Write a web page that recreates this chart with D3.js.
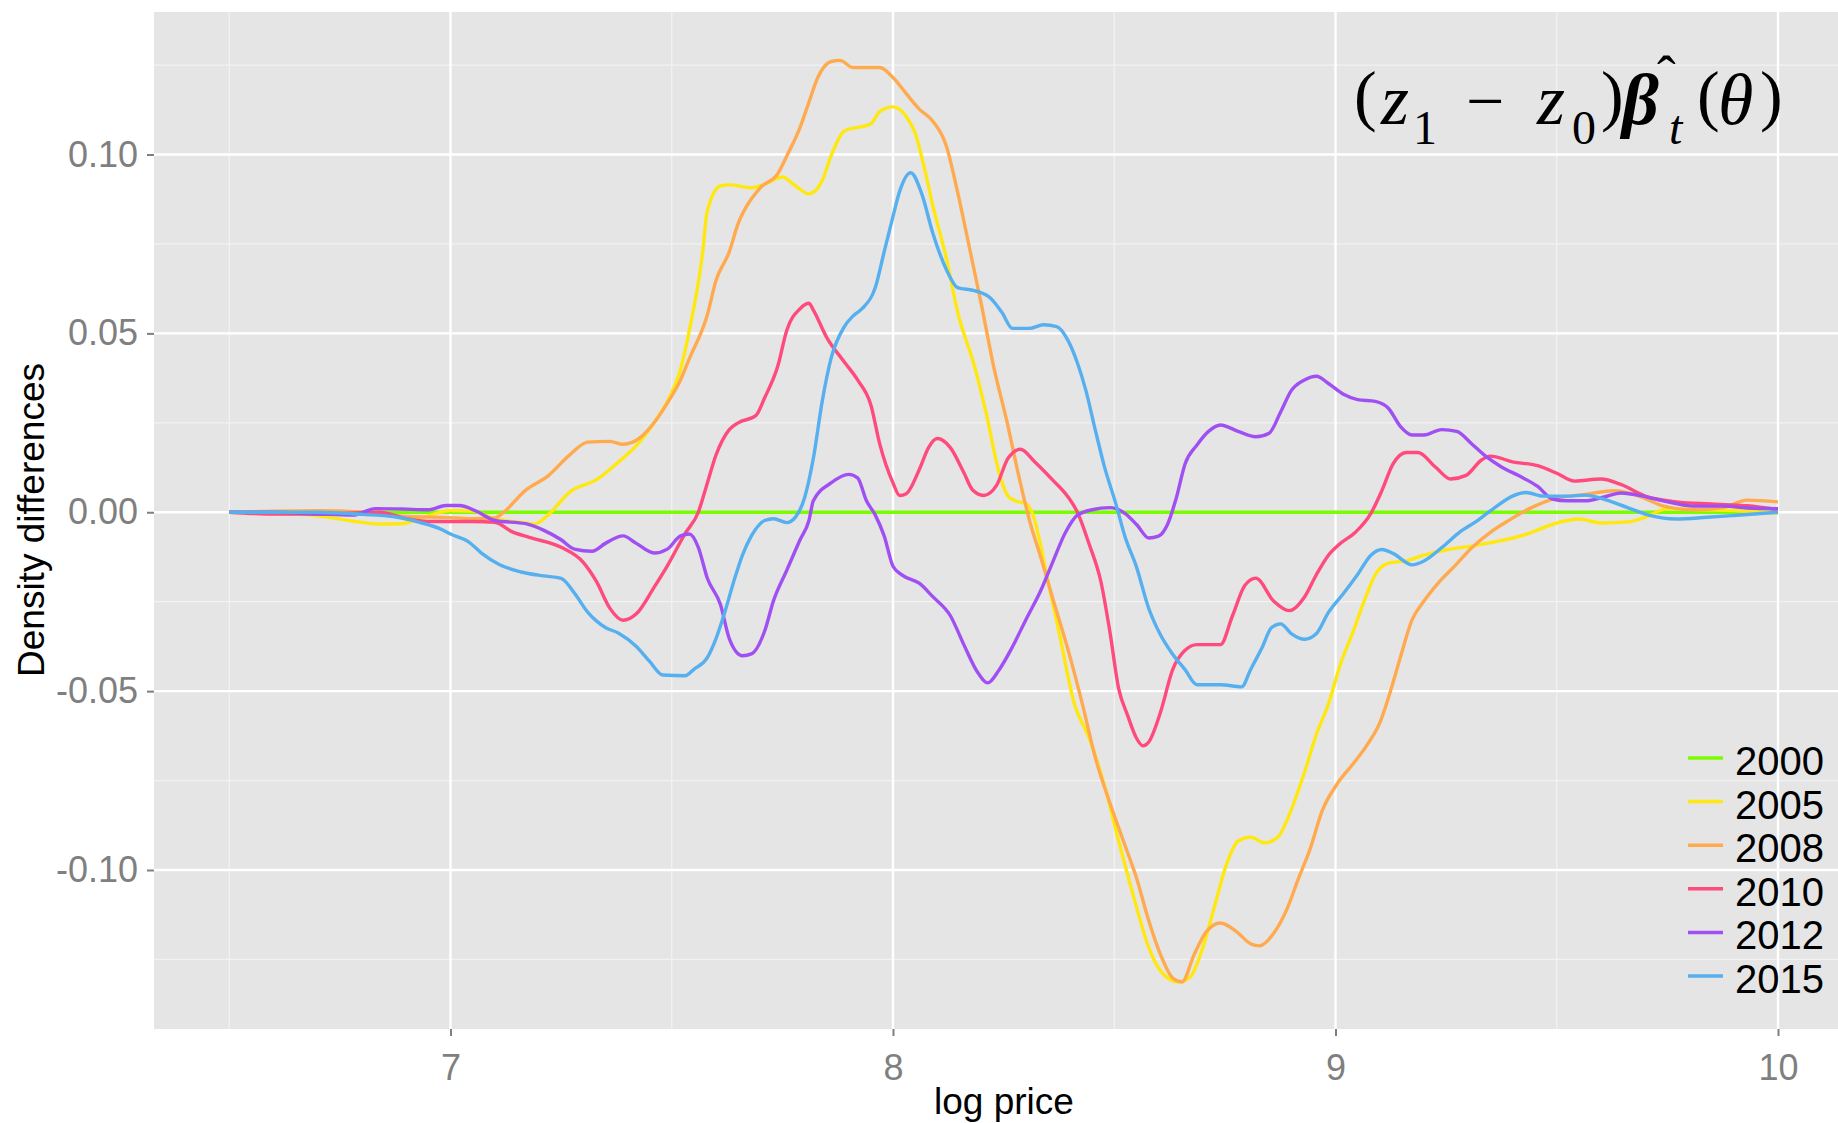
<!DOCTYPE html>
<html>
<head>
<meta charset="utf-8">
<script src="https://cdn.jsdelivr.net/npm/d3@7"></script>
<style>
  body { margin: 0; background: #fff; }
  #chart text { font-family: "Liberation Sans", Arial, sans-serif; }
</style>
</head>
<body>
<div id="chart"></div>
<script>

//////////// *** DATA *** ////////////

var years = ["2000", "2005", "2008", "2010", "2012", "2015"];

var xTicks = [7, 8, 9, 10];
var xTickLabels = ["7", "8", "9", "10"];
var xMinor = [6.5, 7.5, 8.5, 9.5];

var yTicks = [-0.10, -0.05, 0, 0.05, 0.10];
var yTickLabels = ["-0.10", "-0.05", "0.00", "0.05", "0.10"];
var yMinor = [-0.125, -0.075, -0.025, 0.025, 0.075, 0.125];

// [log price, density difference]
var d2000 = [[6.5, 0], [10, 0]];

var d2005 = [[6.5,0],[6.6,-0.0003],[6.7,-0.001],[6.78,-0.0025],[6.84,-0.0033],[6.89,-0.0032],[6.95,-0.001],[7.0,0.0005],
  [7.05,0.0003],[7.1,-0.0018],[7.17,-0.003],[7.19,-0.0033],[7.22,-0.0008],[7.27,0.0057],[7.33,0.0091],[7.38,0.0141],
  [7.42,0.0186],[7.46,0.025],[7.49,0.031],[7.52,0.040],[7.54,0.051],[7.57,0.0728],[7.58,0.084],[7.61,0.0912],[7.63,0.0915],
  [7.68,0.0907],[7.71,0.0917],[7.75,0.0937],[7.78,0.0912],[7.81,0.089],[7.84,0.0927],[7.86,0.0996],[7.89,0.1066],
  [7.95,0.1086],[7.97,0.112],[8.0,0.1133],[8.03,0.1106],[8.05,0.106],[8.07,0.0967],[8.09,0.0857],[8.12,0.0713],
  [8.146,0.056],[8.186,0.040],[8.21,0.028],[8.24,0.011],[8.26,0.0045],[8.28,0.003],[8.3,0.0025],[8.315,-0.0003],
  [8.35,-0.019],[8.376,-0.034],[8.41,-0.0536],[8.443,-0.063],[8.477,-0.076],[8.51,-0.0919],[8.545,-0.108],[8.578,-0.1217],
  [8.61,-0.129],[8.646,-0.1313],[8.673,-0.1297],[8.70,-0.1217],[8.727,-0.110],[8.754,-0.0983],[8.78,-0.0919],[8.808,-0.0908],
  [8.84,-0.0924],[8.87,-0.0908],[8.896,-0.0844],[8.93,-0.0727],[8.957,-0.062],[8.984,-0.0536],[9.01,-0.0429],[9.04,-0.0333],
  [9.065,-0.0248],[9.09,-0.0174],[9.12,-0.0142],[9.16,-0.0136],[9.2,-0.012],[9.254,-0.0104],[9.31,-0.0094],[9.36,-0.0083],
  [9.43,-0.0062],[9.5,-0.003],[9.55,-0.0019],[9.6,-0.003],[9.66,-0.0027],[9.7,-0.0014],[9.75,0.001],[9.835,0.0007],
  [9.9,0.0005],[10.0,-0.0003]];

var d2008 = [[6.5,0],[6.6,0.0003],[6.7,0.0004],[6.8,0],[6.9,-0.0012],[7.0,-0.0015],[7.05,-0.0018],[7.1,-0.0016],[7.12,0],
  [7.17,0.0062],[7.22,0.0101],[7.27,0.0161],[7.31,0.0196],[7.36,0.0198],[7.39,0.019],[7.43,0.021],[7.46,0.025],[7.49,0.0305],
  [7.52,0.037],[7.54,0.043],[7.58,0.055],[7.6,0.0648],[7.63,0.0728],[7.65,0.0807],[7.67,0.0857],[7.7,0.0907],[7.74,0.0947],
  [7.76,0.0996],[7.79,0.1076],[7.81,0.1146],[7.83,0.1215],[7.86,0.126],[7.88,0.1263],[7.91,0.1243],[7.97,0.1243],[8.0,0.1215],
  [8.03,0.117],[8.06,0.1126],[8.09,0.1093],[8.12,0.1026],[8.146,0.0895],[8.173,0.0738],[8.2,0.0579],[8.227,0.041],[8.26,0.024],
  [8.28,0.0125],[8.31,-0.003],[8.335,-0.013],[8.36,-0.0237],[8.396,-0.0386],[8.43,-0.0546],[8.457,-0.0685],[8.49,-0.0812],
  [8.524,-0.093],[8.551,-0.1025],[8.578,-0.1142],[8.605,-0.1238],[8.632,-0.1302],[8.653,-0.1313],[8.68,-0.1238],[8.707,-0.1174],
  [8.74,-0.1148],[8.774,-0.117],[8.808,-0.1206],[8.828,-0.1212],[8.862,-0.1174],[8.89,-0.111],[8.916,-0.1025],[8.943,-0.094],
  [8.97,-0.0834],[9.004,-0.0759],[9.038,-0.0706],[9.07,-0.0653],[9.1,-0.0589],[9.126,-0.0493],[9.146,-0.0408],[9.173,-0.0301],
  [9.2,-0.0248],[9.234,-0.0195],[9.268,-0.0152],[9.308,-0.0099],[9.35,-0.0056],[9.39,-0.0024],[9.443,0.0013],[9.497,0.0039],
  [9.565,0.005],[9.63,0.006],[9.686,0.0045],[9.74,0.0018],[9.81,0.0007],[9.876,0.0013],[9.93,0.0034],[10.0,0.0029]];

var d2010 = [[6.5,0],[6.6,-0.0005],[6.7,-0.0005],[6.84,0],[6.9,-0.0018],[6.96,-0.0026],[7.05,-0.0026],[7.1,-0.0028],
  [7.14,-0.0055],[7.18,-0.0071],[7.25,-0.0098],[7.3,-0.014],[7.33,-0.0194],[7.36,-0.0268],[7.39,-0.0302],[7.42,-0.0284],
  [7.46,-0.021],[7.49,-0.015],[7.53,-0.006],[7.56,0],[7.58,0.008],[7.6,0.016],[7.63,0.0231],[7.65,0.025],[7.69,0.027],
  [7.71,0.032],[7.74,0.041],[7.76,0.0509],[7.79,0.0569],[7.81,0.0584],[7.82,0.0565],[7.85,0.0489],[7.89,0.042],[7.92,0.037],
  [7.95,0.030],[7.97,0.0191],[8.0,0.0082],[8.015,0.0047],[8.03,0.0052],[8.06,0.0121],[8.08,0.018],[8.1,0.0206],[8.13,0.018],
  [8.16,0.0111],[8.18,0.0062],[8.205,0.0047],[8.234,0.0075],[8.26,0.0151],[8.288,0.0176],[8.32,0.0141],[8.36,0.0091],
  [8.396,0.0042],[8.416,0.0002],[8.443,-0.0088],[8.47,-0.0195],[8.49,-0.0333],[8.51,-0.0493],[8.53,-0.0567],[8.55,-0.0631],
  [8.565,-0.0653],[8.578,-0.0642],[8.605,-0.0557],[8.632,-0.044],[8.66,-0.0386],[8.687,-0.037],[8.74,-0.037],[8.767,-0.029],
  [8.795,-0.0205],[8.82,-0.0184],[8.86,-0.0248],[8.896,-0.0275],[8.93,-0.0237],[8.957,-0.0174],[8.984,-0.012],[9.01,-0.0088],
  [9.045,-0.0056],[9.08,-0.0003],[9.105,0.0061],[9.13,0.0135],[9.16,0.0167],[9.186,0.0167],[9.227,0.0125],[9.26,0.0093],
  [9.295,0.0103],[9.33,0.0146],[9.35,0.0157],[9.4,0.0141],[9.457,0.013],[9.5,0.0109],[9.54,0.0087],[9.6,0.0093],[9.646,0.0077],
  [9.7,0.0045],[9.77,0.0029],[9.85,0.0023],[9.93,0.0018],[10.0,0.0007]];

var d2012 = [[6.5,0],[6.6,0],[6.7,-0.0005],[6.78,-0.0008],[6.83,0.001],[6.89,0.0009],[6.95,0.0007],[6.99,0.0019],[7.02,0.0019],
  [7.06,0.0002],[7.1,-0.0023],[7.17,-0.0032],[7.21,-0.005],[7.25,-0.0077],[7.28,-0.0103],[7.32,-0.0109],[7.35,-0.0087],
  [7.39,-0.0066],[7.42,-0.0087],[7.46,-0.0114],[7.49,-0.0103],[7.52,-0.0066],[7.54,-0.0061],[7.56,-0.0098],[7.58,-0.0183],
  [7.61,-0.0258],[7.63,-0.0353],[7.66,-0.0401],[7.68,-0.0396],[7.71,-0.0332],[7.73,-0.0247],[7.76,-0.0162],[7.79,-0.0077],
  [7.81,-0.0023],[7.82,0.0032],[7.86,0.0082],[7.9,0.0106],[7.92,0.0096],[7.94,0.0032],[7.96,-0.0008],[7.98,-0.0066],
  [8.0,-0.0151],[8.02,-0.0175],[8.06,-0.0199],[8.09,-0.0236],[8.13,-0.029],[8.16,-0.037],[8.19,-0.0445],[8.214,-0.0477],
  [8.24,-0.044],[8.27,-0.0376],[8.3,-0.0301],[8.335,-0.0216],[8.36,-0.0142],[8.39,-0.0056],[8.416,-0.0009],[8.45,0.0007],
  [8.49,0.0013],[8.524,-0.0003],[8.551,-0.0035],[8.578,-0.0072],[8.6,-0.0067],[8.62,-0.0035],[8.64,0.0039],[8.66,0.0135],
  [8.687,0.0188],[8.713,0.0226],[8.74,0.0244],[8.78,0.0226],[8.82,0.0211],[8.85,0.0221],[8.876,0.028],[8.9,0.034],[8.93,0.037],
  [8.957,0.038],[8.984,0.036],[9.018,0.033],[9.05,0.0315],[9.09,0.031],[9.12,0.029],[9.146,0.0241],[9.173,0.0216],[9.2,0.0216],
  [9.24,0.0231],[9.274,0.0226],[9.308,0.0191],[9.34,0.0156],[9.376,0.0126],[9.416,0.0101],[9.457,0.0072],[9.49,0.0037],
  [9.524,0.0032],[9.565,0.0032],[9.605,0.0042],[9.646,0.0054],[9.686,0.0047],[9.74,0.0032],[9.81,0.0017],[9.876,0.0017],
  [9.93,0.0012],[10.0,0.001]];

var d2015 = [[6.5,0],[6.6,0],[6.7,0],[6.8,-0.0006],[6.87,-0.0012],[6.93,-0.0028],[6.98,-0.0048],[7.0,-0.0061],[7.04,-0.0082],
  [7.07,-0.0114],[7.11,-0.0146],[7.16,-0.0167],[7.21,-0.0178],[7.25,-0.0185],[7.28,-0.0226],[7.31,-0.0279],[7.35,-0.0322],
  [7.38,-0.0338],[7.42,-0.0375],[7.45,-0.0417],[7.48,-0.0455],[7.53,-0.0457],[7.55,-0.0439],[7.58,-0.0407],[7.6,-0.0353],
  [7.62,-0.0279],[7.64,-0.0194],[7.66,-0.0119],[7.68,-0.0066],[7.71,-0.0023],[7.73,-0.0018],[7.76,-0.0029],[7.78,-0.0013],
  [7.8,0.004],[7.82,0.0151],[7.84,0.031],[7.86,0.043],[7.89,0.0519],[7.91,0.0549],[7.93,0.0569],[7.96,0.0628],[7.98,0.0728],
  [8.0,0.0827],[8.015,0.0897],[8.04,0.0949],[8.065,0.089],[8.09,0.078],[8.12,0.068],[8.146,0.0628],[8.186,0.0619],[8.22,0.0599],
  [8.246,0.0559],[8.27,0.0514],[8.308,0.0514],[8.34,0.0524],[8.37,0.0519],[8.396,0.0479],[8.416,0.042],[8.436,0.034],
  [8.457,0.0231],[8.477,0.0131],[8.504,0.0022],[8.524,-0.0067],[8.55,-0.0152],[8.578,-0.0269],[8.605,-0.0344],[8.632,-0.0397],
  [8.66,-0.044],[8.687,-0.0482],[8.74,-0.0482],[8.788,-0.0488],[8.808,-0.044],[8.835,-0.0376],[8.855,-0.0323],[8.876,-0.0312],
  [8.9,-0.0339],[8.93,-0.0355],[8.957,-0.0339],[8.984,-0.028],[9.018,-0.0227],[9.05,-0.0174],[9.08,-0.012],[9.105,-0.0104],
  [9.13,-0.0115],[9.173,-0.0147],[9.2,-0.0136],[9.24,-0.0099],[9.28,-0.0056],[9.32,-0.0024],[9.36,0.0013],[9.4,0.0045],
  [9.43,0.0055],[9.47,0.0045],[9.524,0.0045],[9.565,0.0048],[9.6,0.0039],[9.66,0.0013],[9.71,-0.0009],[9.77,-0.0019],
  [9.84,-0.0014],[9.9,-0.0009],[10.0,0]];

var series = [d2000, d2005, d2008, d2010, d2012, d2015];


//////////// *** VARIABLES *** ////////////

var width = 1838,
    height = 1123;

var panel = {left: 154, top: 12, right: 1838, bottom: 1029};

var colors = ["#7cfc00", "#ffe811", "#ffaa4f", "#ff4a7d", "#a050f2", "#56afef"];

var x = d3.scaleLinear().domain([7, 10]).range([450.5, 1778]);
var y = d3.scaleLinear().domain([-0.1, 0.1]).range([870, 154.5]);

var svg = d3.select("#chart").append("svg")
  .attr("width", width)
  .attr("height", height);


//////////// *** PANEL + GRID *** ////////////

svg.append("rect")
  .attr("x", panel.left)
  .attr("y", panel.top)
  .attr("width", panel.right - panel.left)
  .attr("height", panel.bottom - panel.top)
  .attr("fill", "#e5e5e5");

var grid = svg.append("g");

grid.selectAll(".minor-x")
  .data(xMinor)
  .enter().append("line")
  .attr("x1", function(d) { return x(d); })
  .attr("x2", function(d) { return x(d); })
  .attr("y1", panel.top)
  .attr("y2", panel.bottom)
  .attr("stroke", "#f2f2f2")
  .attr("stroke-width", 1.3);

grid.selectAll(".minor-y")
  .data(yMinor)
  .enter().append("line")
  .attr("x1", panel.left)
  .attr("x2", panel.right)
  .attr("y1", function(d) { return y(d); })
  .attr("y2", function(d) { return y(d); })
  .attr("stroke", "#f2f2f2")
  .attr("stroke-width", 1.3);

grid.selectAll(".major-x")
  .data(xTicks)
  .enter().append("line")
  .attr("x1", function(d) { return x(d); })
  .attr("x2", function(d) { return x(d); })
  .attr("y1", panel.top)
  .attr("y2", panel.bottom)
  .attr("stroke", "#fff")
  .attr("stroke-width", 2.4);

grid.selectAll(".major-y")
  .data(yTicks)
  .enter().append("line")
  .attr("x1", panel.left)
  .attr("x2", panel.right)
  .attr("y1", function(d) { return y(d); })
  .attr("y2", function(d) { return y(d); })
  .attr("stroke", "#fff")
  .attr("stroke-width", 2.4);


//////////// *** LINES *** ////////////

var line = d3.line()
  .x(function(d) { return x(d[0]); })
  .y(function(d) { return y(d[1]); })
  .curve(d3.curveMonotoneX);

svg.selectAll(".series")
  .data(series)
  .enter().append("path")
  .attr("class", "series")
  .attr("d", line)
  .attr("fill", "none")
  .attr("stroke", function(d, i) { return colors[i]; })
  .attr("stroke-width", 3.4)
  .attr("stroke-linejoin", "round");


//////////// *** AXES *** ////////////

var xAxis = svg.append("g")
  .attr("transform", "translate(0," + panel.bottom + ")")
  .call(d3.axisBottom(x)
    .tickValues(xTicks)
    .tickFormat(function(d, i) { return xTickLabels[i]; })
    .tickSize(7)
    .tickPadding(18));

var yAxis = svg.append("g")
  .attr("transform", "translate(" + panel.left + ",0)")
  .call(d3.axisLeft(y)
    .tickValues(yTicks)
    .tickFormat(function(d, i) { return yTickLabels[i]; })
    .tickSize(7)
    .tickPadding(9));

[xAxis, yAxis].forEach(function(ax) {
  ax.select(".domain").remove();
  ax.selectAll(".tick line").attr("stroke", "#7f7f7f").attr("stroke-width", 2);
  ax.selectAll(".tick text")
    .attr("fill", "#7f7f7f")
    .style("font-size", "36px");
});

svg.append("text")
  .attr("x", 1004)
  .attr("y", 1114)
  .attr("text-anchor", "middle")
  .style("font-size", "37px")
  .attr("fill", "#000")
  .text("log price");

svg.append("text")
  .attr("transform", "translate(44,520) rotate(-90)")
  .attr("text-anchor", "middle")
  .style("font-size", "37px")
  .attr("fill", "#000")
  .text("Density differences");


//////////// *** LEGEND *** ////////////

var legend = svg.selectAll(".legend")
  .data(years)
  .enter().append("g")
  .attr("class", "legend")
  .attr("transform", function(d, i) { return "translate(0," + (758 + i * 43.6) + ")"; });

legend.append("line")
  .attr("x1", 1688)
  .attr("x2", 1723)
  .attr("stroke", function(d, i) { return colors[i]; })
  .attr("stroke-width", 3.5);

legend.append("text")
  .attr("x", 1735)
  .attr("y", 17)
  .style("font-size", "40px")
  .attr("fill", "#000")
  .text(function(d) { return d; });


//////////// *** FORMULA *** ////////////

// (z1 - z0) beta-hat_t (theta), set piece by piece in one text element
var formula = svg.append("text")
  .attr("fill", "#000")
  .style("font-family", '"Liberation Serif", "Times New Roman", serif');

function piece(t, px, py, size, style, weight) {
  formula.append("tspan")
    .attr("x", px)
    .attr("y", py)
    .style("font-size", size + "px")
    .style("font-style", style || "normal")
    .style("font-weight", weight || "normal")
    .text(t);
}

piece("(", 1354, 118, 68);
piece("z", 1381, 124, 72, "italic");
piece("1", 1413, 144, 48);
piece("\u2212", 1466, 124, 68);
piece("z", 1537, 124, 72, "italic");
piece("0", 1572, 144, 48);
piece(")", 1601, 118, 68);
piece("\u03B2", 1622, 124, 72, "italic", "bold");
piece("\u02C6", 1657, 95, 56);
piece("t", 1669, 144, 48, "italic");
piece("(", 1697, 118, 68);
piece("\u03B8", 1718, 124, 72, "italic");
piece(")", 1760, 118, 68);

</script>
</body>
</html>
